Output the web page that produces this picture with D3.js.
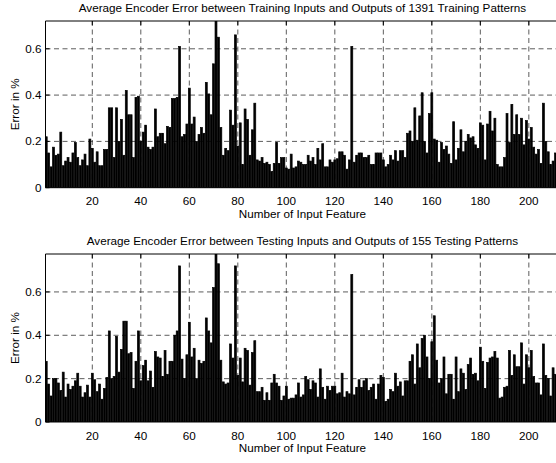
<!DOCTYPE html>
<html>
<head>
<meta charset="utf-8">
<script src="https://cdn.jsdelivr.net/npm/d3@7"></script>
<style>
  body { margin: 0; background: #fff; }
  svg { display: block; font-family: "Liberation Sans", Arial, sans-serif; }
</style>
</head>
<body>
<div id="chart"></div>
<script>
// average encoder error per input feature (in %)
const trainError = [
  0.22, 0.15, 0.09, 0.175, 0.14, 0.145, 0.24, 0.095, 0.115, 0.13, 0.11, 0.15, 0.195, 0.13, 0.095, 0.12, 0.145, 0.095, 0.21, 0.17,
  0.11, 0.155, 0.095, 0.095, 0.165, 0.165, 0.345, 0.345, 0.13, 0.345, 0.2, 0.295, 0.14, 0.42, 0.315, 0.315, 0.13, 0.39, 0.395, 0.2,
  0.24, 0.27, 0.175, 0.165, 0.175, 0.34, 0.22, 0.235, 0.235, 0.19, 0.265, 0.26, 0.385, 0.385, 0.39, 0.61, 0.22, 0.23, 0.275, 0.43,
  0.275, 0.305, 0.2, 0.23, 0.26, 0.235, 0.455, 0.405, 0.315, 0.535, 0.72, 0.65, 0.26, 0.14, 0.17, 0.16, 0.335, 0.27, 0.66, 0.18,
  0.28, 0.1, 0.34, 0.295, 0.14, 0.25, 0.365, 0.12, 0.115, 0.13, 0.105, 0.11, 0.1, 0.07, 0.105, 0.195, 0.105, 0.13, 0.13, 0.085,
  0.08, 0.145, 0.085, 0.09, 0.115, 0.11, 0.1, 0.1, 0.14, 0.115, 0.13, 0.1, 0.17, 0.12, 0.19, 0.09, 0.09, 0.12, 0.11, 0.12,
  0.125, 0.155, 0.155, 0.14, 0.08, 0.12, 0.61, 0.11, 0.14, 0.15, 0.15, 0.13, 0.13, 0.14, 0.1, 0.1, 0.15, 0.15, 0.15, 0.12,
  0.09, 0.1, 0.14, 0.12, 0.16, 0.115, 0.16, 0.16, 0.13, 0.235, 0.245, 0.2, 0.345, 0.205, 0.31, 0.41, 0.2, 0.15, 0.32, 0.41,
  0.21, 0.205, 0.11, 0.195, 0.165, 0.18, 0.145, 0.105, 0.285, 0.12, 0.17, 0.25, 0.155, 0.2, 0.23, 0.215, 0.22, 0.185, 0.17, 0.28,
  0.27, 0.12, 0.275, 0.33, 0.245, 0.3, 0.1, 0.09, 0.09, 0.13, 0.32, 0.195, 0.36, 0.23, 0.315, 0.23, 0.3, 0.185, 0.29, 0.21,
  0.26, 0.175, 0.145, 0.165, 0.105, 0.365, 0.2, 0.155, 0.1, 0.115, 0.15, 0.2
];

const testError = [
  0.28, 0.175, 0.12, 0.2, 0.2, 0.18, 0.145, 0.23, 0.115, 0.175, 0.15, 0.165, 0.19, 0.225, 0.165, 0.115, 0.135, 0.17, 0.115, 0.225,
  0.195, 0.14, 0.175, 0.105, 0.155, 0.205, 0.42, 0.2, 0.21, 0.395, 0.23, 0.335, 0.465, 0.465, 0.315, 0.32, 0.155, 0.28, 0.42, 0.19,
  0.26, 0.285, 0.19, 0.235, 0.16, 0.325, 0.3, 0.295, 0.21, 0.33, 0.22, 0.28, 0.28, 0.4, 0.42, 0.72, 0.29, 0.2, 0.31, 0.46,
  0.3, 0.34, 0.2, 0.285, 0.27, 0.28, 0.48, 0.42, 0.365, 0.62, 0.775, 0.73, 0.285, 0.185, 0.175, 0.18, 0.36, 0.295, 0.72, 0.215,
  0.295, 0.185, 0.34, 0.33, 0.17, 0.32, 0.375, 0.14, 0.14, 0.16, 0.1, 0.135, 0.1, 0.18, 0.22, 0.18, 0.165, 0.1, 0.12, 0.165,
  0.105, 0.11, 0.11, 0.125, 0.18, 0.115, 0.125, 0.21, 0.195, 0.15, 0.19, 0.18, 0.115, 0.245, 0.16, 0.105, 0.165, 0.145, 0.165, 0.165,
  0.13, 0.135, 0.225, 0.115, 0.14, 0.13, 0.68, 0.125, 0.16, 0.195, 0.16, 0.19, 0.2, 0.145, 0.16, 0.175, 0.105, 0.175, 0.215, 0.205,
  0.095, 0.105, 0.15, 0.14, 0.225, 0.165, 0.185, 0.12, 0.19, 0.19, 0.28, 0.31, 0.175, 0.36, 0.25, 0.385, 0.4, 0.3, 0.2, 0.37,
  0.49, 0.285, 0.18, 0.2, 0.3, 0.13, 0.22, 0.22, 0.105, 0.3, 0.14, 0.245, 0.225, 0.15, 0.265, 0.295, 0.22, 0.225, 0.19, 0.345,
  0.28, 0.155, 0.275, 0.295, 0.3, 0.325, 0.295, 0.11, 0.115, 0.16, 0.165, 0.33, 0.215, 0.31, 0.255, 0.255, 0.365, 0.175, 0.31, 0.25,
  0.33, 0.21, 0.18, 0.18, 0.125, 0.36, 0.215, 0.2, 0.12, 0.25, 0.22, 0.2
];

const features = d3.range(1, trainError.length + 1);
const xTicks = [20, 40, 60, 80, 100, 120, 140, 160, 180, 200];
const yTicks = [0, 0.2, 0.4, 0.6];
const titles = [
  "Average Encoder Error between Training Inputs and Outputs of 1391 Training Patterns",
  "Average Encoder Error between Testing Inputs and Outputs of 155 Testing Patterns"
];
const xLabel = "Number of Input Feature";
const yLabel = "Error in %";

const width = 556, height = 463;
const fontSize = '11.7px';

const svg = d3.select('#chart').append('svg')
  .attr('width', width)
  .attr('height', height);

function drawPanel(values, title, top, bottom, yMax, clipId) {
  const x = d3.scaleLinear().domain([0.7, 212.6]).range([45.5, 559.4]);
  const y = d3.scaleLinear().domain([0, yMax]).range([bottom, top]);
  const left = x.range()[0], right = x.range()[1];

  const g = svg.append('g');

  g.append('clipPath').attr('id', clipId)
    .append('rect')
    .attr('x', left).attr('y', top)
    .attr('width', right - left).attr('height', bottom - top);

  // dashed grid
  const grid = g.append('g')
    .attr('stroke', '#333')
    .attr('stroke-width', 0.8)
    .attr('stroke-dasharray', '5,3.5');
  grid.selectAll('line.vx')
    .data(xTicks)
    .join('line')
    .attr('x1', d => x(d)).attr('x2', d => x(d))
    .attr('y1', top).attr('y2', bottom);
  grid.selectAll('line.hy')
    .data(yTicks.filter(d => d > 0))
    .join('line')
    .attr('x1', left).attr('x2', right)
    .attr('y1', d => y(d)).attr('y2', d => y(d));

  // bars (black face + black edge, like matlab's bar)
  const bw = (x(2) - x(1)) * 0.8;
  g.append('g')
    .attr('clip-path', `url(#${clipId})`)
    .selectAll('rect')
    .data(values)
    .join('rect')
    .attr('x', (d, i) => x(features[i]) - bw / 2)
    .attr('width', bw)
    .attr('y', d => y(d))
    .attr('height', d => y(0) - y(d))
    .attr('fill', '#000')
    .attr('stroke', '#000')
    .attr('stroke-width', 0.7);

  // axes box + inward ticks
  const axis = g.append('g').attr('stroke', '#000').attr('stroke-width', 1);
  axis.append('line').attr('x1', left).attr('x2', right).attr('y1', top).attr('y2', top);
  axis.append('line').attr('x1', left).attr('x2', right).attr('y1', bottom).attr('y2', bottom);
  axis.append('line').attr('x1', left).attr('x2', left).attr('y1', top).attr('y2', bottom);
  axis.selectAll('line.tx')
    .data(xTicks)
    .join('line')
    .attr('x1', d => x(d)).attr('x2', d => x(d))
    .attr('y1', top).attr('y2', top + 4);
  axis.selectAll('line.ty')
    .data(yTicks)
    .join('line')
    .attr('x1', left).attr('x2', left + 4)
    .attr('y1', d => y(d)).attr('y2', d => y(d));

  // tick labels
  g.append('g')
    .selectAll('text')
    .data(xTicks)
    .join('text')
    .attr('x', d => x(d))
    .attr('y', bottom + 17.5)
    .attr('text-anchor', 'middle')
    .style('font-size', fontSize)
    .text(d => d);

  g.append('g')
    .selectAll('text')
    .data(yTicks)
    .join('text')
    .attr('x', left - 4)
    .attr('y', d => y(d) + 4)
    .attr('text-anchor', 'end')
    .style('font-size', fontSize)
    .text(d => d === 0 ? '0' : d3.format('.1f')(d));

  // title and labels
  const cx = (left + right) / 2;
  g.append('text')
    .attr('x', cx)
    .attr('y', top - 9.5)
    .attr('text-anchor', 'middle')
    .style('font-size', fontSize)
    .text(title);

  g.append('text')
    .attr('x', cx)
    .attr('y', bottom + 30)
    .attr('text-anchor', 'middle')
    .style('font-size', fontSize)
    .text(xLabel);

  g.append('text')
    .attr('transform', `translate(19,${(top + bottom) / 2}) rotate(-90)`)
    .attr('text-anchor', 'middle')
    .style('font-size', fontSize)
    .text(yLabel);
}

drawPanel(trainError, titles[0], 21, 187.7, 0.72, 'clip-top');
drawPanel(testError, titles[1], 254, 422, 0.775, 'clip-bottom');
</script>
</body>
</html>
